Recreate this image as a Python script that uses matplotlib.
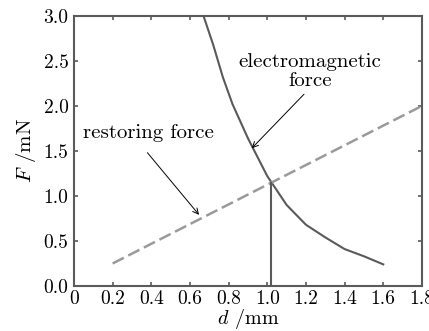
import numpy as np
import matplotlib
matplotlib.use("Agg")
import matplotlib.pyplot as plt

plt.rcParams['font.family'] = 'cmr10'
plt.rcParams['mathtext.fontset'] = 'cm'
plt.rcParams['axes.formatter.use_mathtext'] = True

# electromagnetic force
em_d = [0.67, 0.72, 0.77, 0.82, 0.90, 1.00, 1.10, 1.20, 1.30, 1.40, 1.50, 1.60]
em_f = [3.00, 2.68, 2.32, 2.02, 1.64, 1.22, 0.90, 0.68, 0.54, 0.41, 0.33, 0.24]

# restoring force
rs_d = [0.2, 1.8]
rs_f = [0.25, 2.0]

# equilibrium point
eq_d = 1.02
eq_f = 1.14

fig = plt.figure(figsize=(4.29, 3.31), dpi=100)
ax = fig.add_axes([0.1725, 0.136, 0.811, 0.816])

ax.plot(em_d, em_f, color='#5a5a5a', lw=1.5)
ax.plot(rs_d, rs_f, color='#9a9a9a', lw=1.8, dashes=(5, 2))
ax.plot([eq_d, eq_d], [0, eq_f], color='#5a5a5a', lw=1.5)

ax.text(0.385, 1.70, 'restoring force', fontsize=15, ha='center', va='center')
ax.annotate('', xy=(0.647, 0.79), xytext=(0.38, 1.48),
            arrowprops=dict(arrowstyle='->', color='black', lw=0.7,
                            shrinkA=0, shrinkB=0))
ax.text(1.22, 2.38, 'electromagnetic\nforce', fontsize=15, ha='center',
        va='center', linespacing=1.05)
ax.annotate('', xy=(0.92, 1.53), xytext=(1.19, 2.13),
            arrowprops=dict(arrowstyle='->', color='black', lw=0.7,
                            shrinkA=0, shrinkB=0))

ax.set_xlim(0, 1.8)
ax.set_ylim(0, 3.0)
ax.set_xticks(np.arange(0, 1.81, 0.2))
ax.set_xticklabels(['0', '0.2', '0.4', '0.6', '0.8', '1.0', '1.2', '1.4', '1.6', '1.8'])
ax.set_yticks(np.arange(0, 3.01, 0.5))
ax.set_yticklabels(['0.0', '0.5', '1.0', '1.5', '2.0', '2.5', '3.0'])
ax.tick_params(direction='in', top=True, right=True, length=3, width=1.2,
               color='#5a5a5a', labelsize=14)
ax.tick_params(axis='x', pad=3)
ax.tick_params(axis='y', pad=4)
for s in ax.spines.values():
    s.set_color('#5a5a5a')
    s.set_linewidth(1.5)

ax.set_xlabel(r'$d$ /mm', fontsize=14.5, labelpad=-1)
ax.set_ylabel(r'$F$ /mN', fontsize=15, labelpad=4)

fig.savefig('out.png', dpi=100)
